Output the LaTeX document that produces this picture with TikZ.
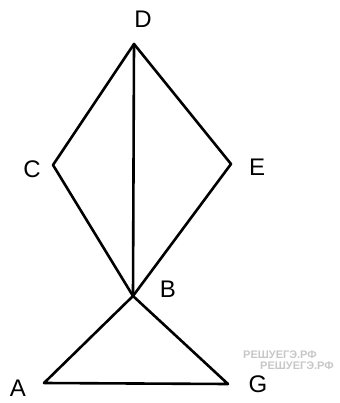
\documentclass[tikz,border=0pt]{standalone}
\usepackage{fontspec}
\setmainfont{Liberation Sans}
\begin{document}
\begin{tikzpicture}[x=1pt,y=-1pt,
  edge/.style={line width=2.6pt, line cap=round, line join=round},
  lbl/.style={font=\fontsize{24}{26}\selectfont, inner sep=0pt},
  wm/.style={font=\fontsize{11}{12}\selectfont\bfseries, text=black!22, inner sep=0pt}]
\useasboundingbox (0,0) rectangle (339,403);
\coordinate (D) at (134,44);
\coordinate (C) at (53,165);
\coordinate (E) at (231,164);
\coordinate (B) at (133,296);
\coordinate (A) at (44,383);
\coordinate (G) at (228,384);
\draw[edge] (D) -- (C) -- (B) -- (E) -- cycle;
\draw[edge] (D) -- (B);
\draw[edge] (B) -- (A) -- (G) -- cycle;
\node[lbl] (lD) at (143,19) {D};
\node[lbl] (lC) at (32,169) {C};
\node[lbl] (lE) at (257,167) {E};
\node[lbl] (lB) at (168,289) {B};
\node[lbl] (lA) at (18,388) {A};
\node[lbl] (lG) at (258,384) {G};
\node[wm] (w1) at (280,355) {РЕШУЕГЭ.РФ};
\node[wm] (w2) at (297,366) {РЕШУЕГЭ.РФ};
\end{tikzpicture}
\end{document}
